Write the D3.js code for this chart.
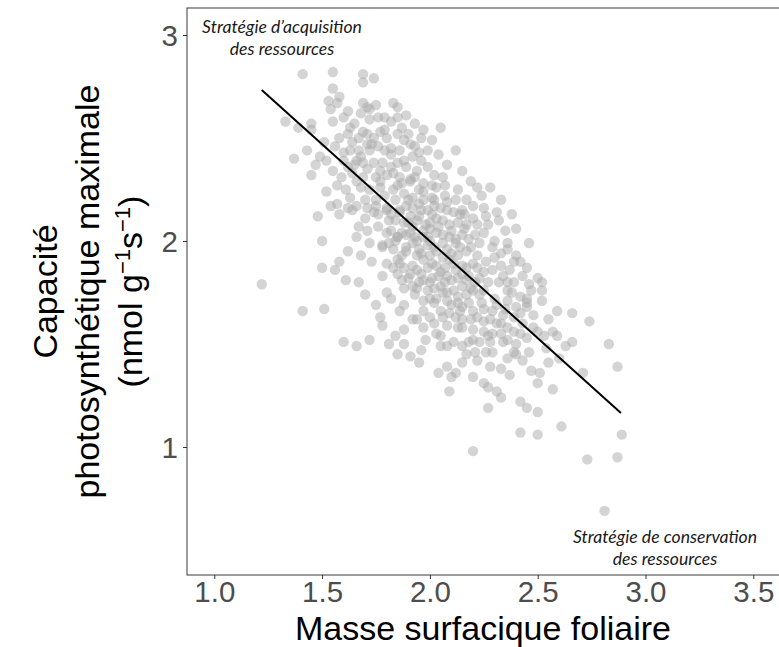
<!DOCTYPE html>
<html>
<head>
<meta charset="utf-8">
<script src="https://cdn.jsdelivr.net/npm/d3@7"></script>
<style>
  html, body { margin: 0; padding: 0; background: #fff; }
  svg { display: block; }
</style>
</head>
<body>
<svg id="chart" width="779" height="647"></svg>
<script>
// ---- Data ----
const xTicks = [1.0, 1.5, 2.0, 2.5, 3.0, 3.5];
const yTicks = [1, 2, 3];
const xTitle = "Masse surfacique foliaire";
const yTitleLines = ["Capacité", "photosynthétique maximale"];
const noteTop = ["Stratégie d’acquisition", "des ressources"];
const noteBottom = ["Stratégie de conservation", "des ressources"];

// regression line end points [masse surfacique, capacité]
const fitLine = [[1.22, 2.733], [2.886, 1.165]];

// individual leaves: [masse surfacique foliaire, capacité photosynthétique]
const points = [
[1.22,1.79],[1.41,1.66],[1.51,1.67],[1.60,1.51],[1.66,1.49],[2.20,0.98],[2.81,0.69],
[1.41,2.81],[1.55,2.82],[1.69,2.81],[1.69,2.77],[1.74,2.79],[1.55,2.74],[1.53,2.68],[1.58,2.70],
[1.54,2.64],[1.57,2.67],[1.62,2.63],[1.69,2.67],[1.71,2.65],[1.72,2.64],[1.83,2.67],[1.85,2.65],
[1.89,2.61],[1.33,2.58],[1.45,2.57],[1.45,2.54],[1.55,2.58],[1.60,2.60],[1.63,2.55],[1.65,2.57],
[1.69,2.53],[1.72,2.59],[1.76,2.60],[1.79,2.60],[1.82,2.58],[1.85,2.60],[1.93,2.57],[1.97,2.54],
[1.58,2.50],[1.62,2.52],[1.67,2.50],[1.71,2.52],[1.74,2.50],[1.77,2.53],[1.80,2.50],[1.85,2.52],
[1.88,2.49],[1.91,2.47],[1.96,2.50],[1.99,2.44],[1.56,2.46],[1.63,2.44],[1.67,2.44],[1.72,2.44],
[1.76,2.46],[1.82,2.45],[1.86,2.44],[1.92,2.41],[1.96,2.39],[1.37,2.40],[1.49,2.41],[1.52,2.39],
[1.55,2.34],[1.60,2.39],[1.66,2.39],[1.69,2.38],[1.74,2.38],[1.78,2.38],[1.85,2.38],[1.89,2.36],
[1.94,2.34],[1.99,2.36],[1.64,2.33],[1.69,2.31],[1.75,2.31],[1.80,2.32],[1.86,2.31],[1.91,2.29],
[1.97,2.28],[1.45,2.32],[1.52,2.24],[1.57,2.27],[1.68,2.26],[1.72,2.25],[1.77,2.26],[1.83,2.25],
[1.88,2.23],[1.92,2.21],[1.97,2.20],[1.48,2.12],[1.54,2.17],[1.57,2.18],[1.62,2.16],[1.66,2.17],
[1.64,2.15],[1.71,2.16],[1.74,2.14],[1.80,2.15],[1.86,2.14],[1.91,2.12],[1.95,2.12],[1.67,2.07],
[1.66,2.02],[1.50,2.00],[1.71,2.05],[1.76,2.07],[1.82,2.05],[1.85,2.02],[1.89,2.03],[1.94,2.00],
[1.99,2.02],[1.72,1.99],[1.78,1.98],
[2.05,2.55],[2.01,2.49],[2.12,2.44],[2.04,2.42],[2.08,2.37],[2.15,2.34],[2.02,2.32],[2.07,2.27],
[2.13,2.25],[2.19,2.29],[2.24,2.22],[2.28,2.26],[2.33,2.20],[2.17,2.20],[2.25,2.16],[2.31,2.14],
[2.38,2.13],[2.02,2.20],[2.08,2.15],[2.14,2.13],[2.20,2.11],[2.01,2.13],[2.00,2.06],
[1.80,2.16],[1.86,2.15],[1.92,2.16],[1.99,2.15],[2.05,2.16],[2.11,2.14],[2.15,2.15],[1.81,2.10],
[1.88,2.09],[1.94,2.10],[2.00,2.09],[2.06,2.10],[2.13,2.09],[1.80,2.04],[1.85,2.02],[1.91,2.04],
[1.97,2.02],[2.03,2.04],[2.09,2.02],[2.15,2.03],[1.78,1.97],[1.83,1.96],[1.89,1.97],[1.95,1.96],
[2.02,1.97],[2.08,1.96],[2.14,1.97],[2.19,1.97],[1.80,1.89],[1.85,1.91],[1.92,1.88],[1.97,1.91],
[2.03,1.88],[2.09,1.91],[2.15,1.88],[2.20,1.89],[1.78,1.83],[1.85,1.84],[1.90,1.82],[1.96,1.84],
[2.01,1.82],[2.08,1.83],[2.13,1.82],[2.18,1.83],[1.88,1.77],[1.92,1.78],[1.99,1.76],[2.05,1.78],
[2.11,1.76],[2.15,1.78],[2.20,1.76],[1.82,1.72],[1.86,1.66],[1.78,1.59],[1.97,1.71],[2.02,1.70],
[2.08,1.71],[2.13,1.70],[2.05,1.66],[2.09,1.65],[2.14,1.66],[1.97,1.66],[2.00,1.63],[1.94,1.62],
[2.02,1.60],[2.08,1.59],[1.97,1.58],
[2.17,2.08],[2.22,2.08],[2.21,2.03],[2.25,2.04],[2.23,1.99],[2.29,1.97],[2.30,1.92],[2.26,1.90],
[2.25,1.85],[2.29,1.86],[2.34,1.83],[2.36,1.80],[2.39,1.80],[2.32,1.80],[2.27,1.80],[2.23,1.82],
[2.38,1.75],[2.42,1.73],[2.36,1.71],[2.30,1.72],[2.40,1.68],[2.45,1.68],[2.42,1.65],[2.39,1.63],
[2.34,1.64],[2.29,1.66],[2.25,1.67],[2.20,1.66],[2.15,1.68],[2.22,1.63],[2.28,1.62],[2.33,1.60],
[2.36,1.58],[2.39,1.56],[2.42,1.55],[2.45,1.53],[2.48,1.58],[2.50,1.56],[2.53,1.54],[2.36,1.52],
[2.40,1.50],[2.39,1.46],[2.33,1.55],[2.29,1.55],[2.25,1.56],[2.20,1.57],[2.15,1.58],[2.13,1.58],
[2.18,1.51],[2.23,1.51],[2.28,1.51],[2.21,1.46],[2.26,1.46],[2.29,1.46],[2.22,1.42],[2.17,1.45],
[2.36,1.99],[2.46,1.99],[2.36,1.96],[2.40,1.93],[2.39,1.90],[2.50,1.82],[2.52,1.80],[2.52,1.76],
[2.52,1.71],[2.46,1.79],[2.47,1.76],[2.45,1.72],[2.45,1.70],[2.59,1.66],[2.66,1.65],[2.74,1.61],
[2.83,1.50],[2.87,1.39],[2.57,1.56],[2.59,1.54],[2.63,1.49],[2.66,1.51],[2.55,1.41],[2.57,1.28],
[2.61,1.10],[2.71,1.36],[2.50,1.31],[2.42,1.22],[2.45,1.19],[2.50,1.17],[2.42,1.07],[2.50,1.06],
[2.89,1.06],[2.27,1.29],[2.31,1.27],[2.33,1.24],[2.27,1.19],[2.09,1.27],[2.03,1.55],[2.05,1.49],
[2.08,1.49],[2.11,1.51],[2.15,1.49],[2.04,1.36],[2.08,1.39],[2.10,1.34],[2.12,1.36],[2.15,1.41],
[1.88,1.50],[1.85,1.45],[1.91,1.44],[1.95,1.41],[1.96,1.47],[2.33,1.38],[2.36,1.43],[2.40,1.45],
[2.43,1.42],[2.47,1.37],[2.51,1.36],[2.73,0.94],[2.87,0.95],
[1.56,1.86],[1.50,1.87],[1.61,1.81],[1.67,1.80],[1.70,1.74],[1.75,1.69],[1.80,1.75],[1.77,1.63],
[1.84,1.54],[1.72,1.52],[1.81,1.50],[1.73,1.90],[1.68,1.93],[1.62,1.95],[1.58,1.90],[1.88,1.69],
[1.92,1.62],[1.88,1.57],
[1.84,2.20],[1.89,2.17],[1.95,2.18],[2.01,2.21],[2.07,2.22],[2.12,2.20],[1.82,2.13],[1.90,2.09],
[1.98,2.08],[2.03,2.11],[2.09,2.08],[2.16,2.13],[1.84,2.00],[1.92,1.99],[1.99,1.98],[2.06,1.99],
[2.12,1.99],[1.87,1.93],[1.94,1.93],[2.00,1.93],[2.06,1.92],[2.13,1.93],[1.83,1.87],[1.88,1.87],
[1.99,1.87],[2.07,1.87],[2.12,1.86],[1.87,1.81],[1.95,1.80],[2.00,1.80],[2.07,1.80],[2.17,1.81],
[1.93,1.74],[2.00,1.72],[2.06,1.75],[2.17,1.74],[2.23,1.74],[2.19,1.62],[2.12,1.63],[2.05,1.54],
[1.98,1.52],[1.91,2.30],[2.01,2.27],[1.95,2.25],[1.85,2.27],[1.79,2.22],[1.75,2.20],[1.77,2.34],
[1.82,2.42],[1.88,2.39],[1.93,2.46],[1.71,2.47],[1.65,2.37],[1.61,2.25],[1.58,2.13],[1.70,2.11],
[1.76,2.13],[2.27,2.08],[2.30,2.00],[2.35,2.05],[2.40,2.06],[2.33,1.88],[2.37,1.86],[2.43,1.83],
[1.83,2.33],[1.87,2.28],[1.93,2.31],[1.97,2.24],[2.03,2.26],[2.06,2.31],[1.90,2.20],[1.96,2.15],
[2.02,2.17],[2.08,2.19],[1.84,2.10],[1.92,2.07],[1.97,2.05],[2.04,2.07],[2.10,2.05],[2.16,2.06],
[1.87,2.04],[1.93,2.02],[2.00,2.00],[2.06,2.03],[2.12,2.01],[2.18,2.01],[1.81,1.99],[1.89,1.95],
[1.96,1.94],[2.03,1.95],[2.10,1.94],[2.17,1.95],[2.22,1.93],[1.86,1.89],[1.94,1.86],[2.01,1.89],
[2.05,1.85],[2.11,1.89],[2.17,1.87],[2.22,1.87],[1.91,1.84],[1.97,1.81],[2.04,1.83],[2.10,1.81],
[2.15,1.84],[2.21,1.80],[1.94,1.77],[2.02,1.77],[2.08,1.75],[2.13,1.73],[2.19,1.77],[2.25,1.76],
[2.03,1.72],[2.10,1.69],[2.18,1.70],[2.24,1.70],[2.31,1.69],[2.06,1.63],[2.15,1.62],[2.25,1.61],
[2.31,1.60],[2.35,1.67],[2.27,1.54],[2.34,1.51],[2.20,1.52],
[1.60,2.43],[1.64,2.48],[1.68,2.41],[1.73,2.47],[1.79,2.44],[1.62,2.36],[1.71,2.35],[1.77,2.29],
[1.82,2.36],[1.59,2.31],[1.66,2.29],[1.70,2.20],[1.63,2.21],[1.75,2.17],[1.68,2.62],[1.75,2.66],
[1.79,2.54],[1.87,2.55],[1.90,2.52],[1.95,2.43],[1.51,2.48],[1.47,2.37],[1.43,2.44],[1.39,2.55],
[2.22,2.26],[2.26,2.12],[2.32,2.10],[2.20,2.17],[2.33,1.94],[2.42,1.90],[2.45,1.87],[2.36,1.76],
[2.48,1.64],[2.55,1.62],[2.43,1.60],[2.54,1.48],[2.46,1.46],[2.60,1.43],[2.37,1.35],[2.28,1.39],
[2.20,1.34],[2.25,1.31]
];

// ---- Layout ----
const svg = d3.select("#chart");
const W = 779, H = 647;
const panel = { left: 187, top: 8, right: 782, bottom: 575 };

svg.append("rect").attr("width", W).attr("height", H).attr("fill", "#fff");

const x = d3.scaleLinear().domain([0.8734, 3.6331]).range([panel.left, panel.right]);
const y = d3.scaleLinear().domain([0.3786, 3.131]).range([panel.bottom, panel.top]);

// points
const g = svg.append("g");
g.selectAll("circle.pt").data(points).join("circle")
  .attr("class", "pt")
  .attr("cx", d => x(d[0]))
  .attr("cy", d => y(d[1]))
  .attr("r", 5.2)
  .attr("fill", "#a9a9a9")
  .attr("fill-opacity", 0.5);

// regression line
g.append("path")
  .datum(fitLine)
  .attr("d", d3.line().x(d => x(d[0])).y(d => y(d[1])))
  .attr("fill", "none")
  .attr("stroke", "#000")
  .attr("stroke-width", 2);

// panel border
svg.append("rect")
  .attr("x", panel.left).attr("y", panel.top)
  .attr("width", panel.right - panel.left).attr("height", panel.bottom - panel.top)
  .attr("fill", "none").attr("stroke", "#4d4d4d").attr("stroke-width", 1.1);

// axes
const xAxis = svg.append("g").attr("transform", `translate(0,${panel.bottom})`)
  .call(d3.axisBottom(x).tickValues(xTicks).tickFormat(d3.format(".1f")).tickSize(4).tickPadding(2));
const yAxis = svg.append("g").attr("transform", `translate(${panel.left},0)`)
  .call(d3.axisLeft(y).tickValues(yTicks).tickFormat(d3.format("d")).tickSize(4).tickPadding(5));
[xAxis, yAxis].forEach(a => {
  a.select(".domain").remove();
  a.selectAll(".tick line").attr("stroke", "#333").attr("stroke-width", 1);
  a.selectAll(".tick text")
    .attr("fill", "#4d4d4d")
    .style("font-family", "'Liberation Sans', Arial, sans-serif")
    .style("font-size", "29.5px");
});
xAxis.selectAll(".tick text").attr("dy", "0.71em");
yAxis.selectAll(".tick text").attr("dy", "0.36em");

// axis titles
const cx = (panel.left + 779) / 2;
svg.append("text")
  .attr("x", cx).attr("y", 639.5)
  .attr("text-anchor", "middle")
  .style("font-family", "'Liberation Sans', Arial, sans-serif")
  .style("font-size", "34px")
  .attr("fill", "#000")
  .text(xTitle);

const cy = (panel.top + panel.bottom) / 2;
const yt = svg.append("text")
  .attr("transform", `translate(0,${cy}) rotate(-90)`)
  .attr("text-anchor", "middle")
  .style("font-family", "'Liberation Sans', Arial, sans-serif")
  .style("font-size", "34px")
  .attr("fill", "#000");
yt.append("tspan").attr("x", 0).attr("y", 57).text(yTitleLines[0]);
yt.append("tspan").attr("x", 0).attr("y", 99).text(yTitleLines[1]);
const l3 = yt.append("tspan").attr("x", 0).attr("y", 142);
l3.append("tspan").text("(nmol g");
l3.append("tspan").attr("dy", -12).style("font-size", "22px").text("−1");
l3.append("tspan").attr("dy", 12).text("s");
l3.append("tspan").attr("dy", -12).style("font-size", "22px").text("−1");
l3.append("tspan").attr("dy", 12).text(")");

// annotations
function note(lines, xc, y0) {
  const t = svg.append("text")
    .attr("text-anchor", "middle")
    .style("font-family", "Lato, 'Open Sans', sans-serif")
    .style("font-style", "italic")
    .style("font-size", "17.6px")
    .attr("fill", "#1a1a1a");
  lines.forEach((s, i) => t.append("tspan").attr("x", xc).attr("y", y0 + i * 22).text(s));
}
note(noteTop, 282, 33);
note(noteBottom, 665, 543);
</script>
</body>
</html>
